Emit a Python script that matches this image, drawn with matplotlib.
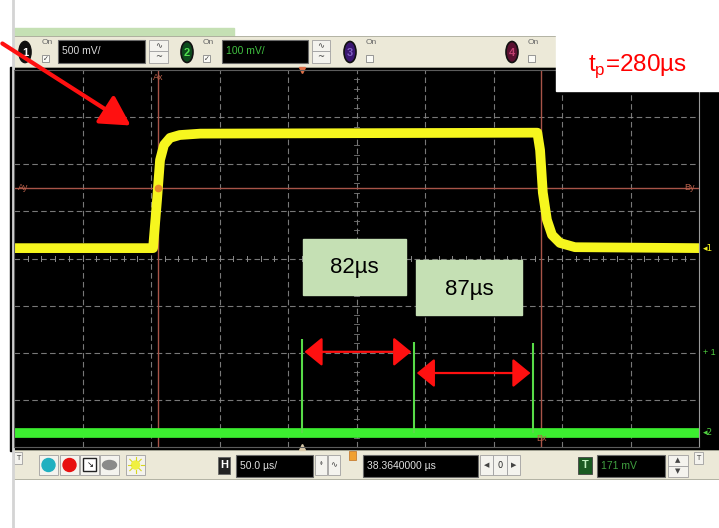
import matplotlib.pyplot as plt
from matplotlib.patches import Rectangle, Ellipse, Circle, FancyArrowPatch
import numpy as np

plt.rcParams['font.family'] = ['Liberation Sans', 'DejaVu Sans']

# timebase: 50 us/div over 10 div, 8 vertical divisions
us_per_div = 50
n_hdiv, n_vdiv = 10, 8

# channel 1 (yellow), 500 mV/div, level in divisions
ch1_t = [0, 101.5, 104.4, 106.6, 109.5, 113.9, 121, 136, 382, 384, 386, 389, 392.7, 398.5, 409.5, 500]
ch1_y = [4.22, 4.22, 5.24, 6.09, 6.41, 6.56, 6.62, 6.65, 6.67, 6.3, 5.4, 4.82, 4.5, 4.33, 4.24, 4.22]

# channel 2 (green), 100 mV/div: flat baseline plus three spikes
ch2_base = 0.3
spike_t = [210, 292, 379]
spike_top = [2.29, 2.23, 2.21]
ch2_trig_level = 2.0

# cursors
cursor_ax, cursor_bx = 105, 385
cursor_ay = 5.5
trig_t = 210

W, H = 719, 528
fig = plt.figure(figsize=(W / 100, H / 100), dpi=100)

# ---- background layer in pixel coords
bg = fig.add_axes([0, 0, 1, 1], zorder=0)
bg.set_xlim(0, W)
bg.set_ylim(H, 0)
bg.axis('off')

bg.plot([13, 13], [0, H], color='#d4d4d4', lw=2)
bg.add_patch(Rectangle((13, 28), 221, 8, color='#c5e0b4'))
bg.add_patch(Rectangle((10, 67), 709, 384, color='black'))

# top toolbar
bg.add_patch(Rectangle((13, 36), 544, 31, facecolor='#ece9d8', edgecolor='#a8a898', lw=0.6))


def chan_button(x, num, face, txt):
    bg.add_patch(Ellipse((x, 52), 12, 21, facecolor=face, edgecolor='#111111', lw=1.2))
    bg.text(x, 52.5, num, color=txt, fontsize=8, fontweight='bold', ha='center', va='center')


def on_box(x, checked):
    bg.text(x, 43, 'On', fontsize=6, color='#666666', ha='left', va='center')
    bg.add_patch(Rectangle((x, 55), 7, 7, facecolor='#fbfbf6', edgecolor='#888888', lw=0.6))
    if checked:
        bg.text(x + 3.5, 58.5, '✓', fontsize=5, color='#333333', ha='center', va='center',
                family='DejaVu Sans')


def field(x, y, w, h, text, color):
    bg.add_patch(Rectangle((x, y), w, h, facecolor='black', edgecolor='#6a6a6a', lw=0.8))
    bg.text(x + 4, y + h / 2, text, fontsize=7.5, color=color, ha='left', va='center')


def button(x, y, w, h, text='', size=6, color='#444444'):
    bg.add_patch(Rectangle((x, y), w, h, facecolor='#f4f3ee', edgecolor='#a0a0a0', lw=0.6))
    if text:
        bg.text(x + w / 2, y + h / 2, text, fontsize=size, color=color, ha='center', va='center',
                family='DejaVu Sans')


chan_button(25, '1', '#101010', 'white')
on_box(42, True)
field(58, 40, 87, 23, '500 mV/', '#d8d8d8')
button(149, 40, 19, 11, '∿')
button(149, 51, 19, 12, '~')

chan_button(187, '2', '#0c4a1c', '#50e050')
on_box(203, True)
field(222, 40, 86, 23, '100 mV/', '#40c040')
button(312, 40, 18, 11, '∿')
button(312, 51, 18, 12, '~')

chan_button(350, '3', '#3a1670', '#8060c0')
on_box(366, False)
chan_button(512, '4', '#5a1030', '#c04070')
on_box(528, False)

# bottom toolbar
bg.add_patch(Rectangle((13, 450), 706, 29, facecolor='#ece9d8', edgecolor='#a8a898', lw=0.6))
button(14, 452, 8, 12, 'T', size=5)
button(39, 455, 19, 20)
bg.add_patch(Circle((48.5, 465), 6.5, color='#20b0c0'))
button(60, 455, 19, 20)
bg.add_patch(Circle((69.5, 465), 6.5, color='#e81010'))
button(80, 455, 19, 20)
bg.add_patch(Rectangle((83, 458), 13, 13, facecolor='white', edgecolor='#222222', lw=1))
bg.text(90, 464.5, '↘', fontsize=6, ha='center', va='center', family='DejaVu Sans')
button(100, 455, 19, 20)
bg.add_patch(Ellipse((109.5, 465), 14, 9, color='#8a8a8a'))
button(126, 455, 19, 20)
bg.add_patch(Circle((135.5, 465), 4, color='#f0f040'))
for a in np.linspace(0, 2 * np.pi, 8, endpoint=False):
    bg.plot([135.5 + 5 * np.cos(a), 135.5 + 8 * np.cos(a)],
            [465 + 5 * np.sin(a), 465 + 8 * np.sin(a)], color='#d8d820', lw=0.8)

bg.add_patch(Rectangle((218, 457), 12, 17, facecolor='#222222', edgecolor='#666666', lw=0.6))
bg.text(224, 465.5, 'H', fontsize=8, color='white', ha='center', va='center', fontweight='bold')
field(236, 455, 77, 22, '50.0 µs/', '#e0e0e0')
button(315, 455, 12, 20, 'ᶲ', size=5)
button(328, 455, 12, 20, '∿')
bg.add_patch(Rectangle((349, 451), 7, 9, facecolor='#f0a030', edgecolor='#c07020', lw=0.5))
field(363, 455, 115, 22, '38.3640000 µs', '#e0e0e0')
button(480, 455, 13, 20, '◀', size=5)
button(493, 455, 14, 20, '0', size=6, color='#222222')
button(507, 455, 13, 20, '▶', size=5)
bg.add_patch(Rectangle((578, 457), 14, 17, facecolor='#1a5a22', edgecolor='#444444', lw=0.6))
bg.text(585, 465.5, 'T', fontsize=8, color='#c0f0c0', ha='center', va='center', fontweight='bold')
field(597, 455, 68, 22, '171 mV', '#40a040')
button(668, 455, 20, 11, '▲', size=5)
button(668, 466, 20, 11, '▼', size=5)
button(694, 452, 9, 12, 'T', size=5)

# ---- scope screen
ax = fig.add_axes([14 / W, (H - 447) / H, 685 / W, 377 / H], zorder=1)
ax.set_facecolor('black')
ax.set_xlim(0, n_hdiv * us_per_div)
ax.set_ylim(0, n_vdiv)
ax.set_xticks([])
ax.set_yticks([])
for s in ax.spines.values():
    s.set_color('#5c5c5c')
ax.spines['right'].set_color('#9a9a9a')

grid_kw = dict(color='#8e8e8e', lw=0.8, ls=(0, (5, 3)), alpha=0.85)
for i in range(1, n_hdiv):
    ax.axvline(i * us_per_div, **grid_kw)
for j in range(1, n_vdiv):
    ax.axhline(j, **grid_kw)

# minor ticks on the centre cross
xc, yc = n_hdiv * us_per_div / 2, n_vdiv / 2
for t in np.arange(0, n_hdiv * us_per_div, us_per_div / 5):
    ax.plot([t, t], [yc - 0.05, yc + 0.05], color='#8a8a8a', lw=0.7)
for v in np.arange(0, n_vdiv, 0.2):
    ax.plot([xc - 2, xc + 2], [v, v], color='#7a7a7a', lw=0.6)

# cursors
cur_c = '#a85448'
ax.axvline(cursor_ax, color=cur_c, lw=1)
ax.axvline(cursor_bx, color=cur_c, lw=1)
ax.axhline(cursor_ay, color=cur_c, lw=1)
lab_c = '#b8604a'
ax.text(cursor_ax, 7.93, 'Ax', fontsize=6.5, color=lab_c, ha='center', va='top')
ax.text(3, cursor_ay, 'Ay', fontsize=6.5, color=lab_c, ha='left', va='center')
ax.text(497, cursor_ay, 'By', fontsize=6.5, color=lab_c, ha='right', va='center')
ax.text(cursor_bx, 0.08, 'Bx', fontsize=6.5, color=lab_c, ha='center', va='bottom')

# traces
ax.plot(ch1_t, ch1_y, color='#f6f61e', lw=7, solid_joinstyle='round')
ax.plot([0, n_hdiv * us_per_div], [ch2_base, ch2_base], color='#3cee30', lw=7)
ax.vlines(spike_t, ch2_base, spike_top, color='#58dc48', lw=1.5)

ax.plot(cursor_ax, cursor_ay, 'o', color='#e88a28', ms=4.5, zorder=5)
ax.plot(trig_t, n_vdiv, marker='v', color='#e07048', ms=4, clip_on=False)
ax.plot(trig_t, 0, marker='^', color='#d8c8a8', ms=4, clip_on=False)

# level markers right of the screen
ax.text(503, ch1_y[0], '◂1', fontsize=6.5, color='#f0f020', va='center', clip_on=False,
        family='DejaVu Sans')
ax.text(503, ch2_trig_level, '+ 1', fontsize=6.5, color='#50d040', va='center', clip_on=False)
ax.text(503, ch2_base, '◂2', fontsize=6.5, color='#50d040', va='center', clip_on=False,
        family='DejaVu Sans')

# spacing arrows between spikes
arrow_kw = dict(arrowstyle='<|-|>,head_length=0.55,head_width=0.45', color='#ff1010', lw=1.6,
                mutation_scale=20, shrinkA=2, shrinkB=2)
gaps = [spike_t[1] - spike_t[0], spike_t[2] - spike_t[1]]
ax.annotate('', xy=(spike_t[1], 2.02), xytext=(spike_t[0], 2.02), arrowprops=arrow_kw)
ax.annotate('', xy=(spike_t[2], 1.57), xytext=(spike_t[1], 1.57), arrowprops=arrow_kw)

# ---- annotation layer in pixel coords
top = fig.add_axes([0, 0, 1, 1], zorder=2)
top.set_xlim(0, W)
top.set_ylim(H, 0)
top.axis('off')
top.patch.set_alpha(0)

top.add_patch(Rectangle((556, 0), 163, 91, color='white'))
top.text(637, 66, r't$_\mathregular{p}$=' + f'{cursor_bx - cursor_ax}µs', fontsize=17.5,
         color='#ff0000', ha='center', va='center')

top.add_patch(Rectangle((303, 239), 103, 56, color='#c5e0b4'))
top.text(354.5, 268, f'{gaps[0]}µs', fontsize=16, ha='center', va='center')
top.add_patch(Rectangle((416, 260), 106, 55, color='#c5e0b4'))
top.text(469, 289, f'{gaps[1]}µs', fontsize=16, ha='center', va='center')

top.add_patch(FancyArrowPatch((0, 42), (133, 127), arrowstyle='-|>,head_length=0.9,head_width=0.5',
                              mutation_scale=20, color='#ff1010', lw=3))

fig.savefig('out.png', dpi=100)
